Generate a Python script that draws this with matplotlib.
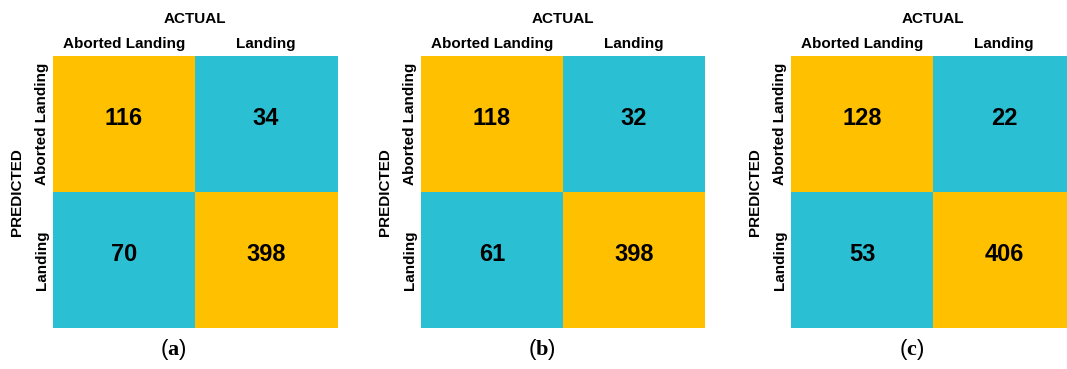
import numpy as np
import matplotlib
matplotlib.use("Agg")
import matplotlib.pyplot as plt
from matplotlib.colors import ListedColormap

plt.rcParams['font.family'] = ['Liberation Sans', 'DejaVu Sans']
plt.rcParams['mathtext.fontset'] = 'custom'
plt.rcParams['mathtext.rm'] = 'Liberation Serif'
plt.rcParams['mathtext.bf'] = 'Liberation Serif:bold'

# 混淆矩阵数据 (行: 预测, 列: 实际)
class_names = ['Aborted Landing', 'Landing']
panel_tags = ['a', 'b', 'c']
cm_a = [[116, 34], [70, 398]]
cm_b = [[118, 32], [61, 398]]
cm_c = [[128, 22], [53, 406]]
matrices = [cm_a, cm_b, cm_c]

# 对角线(预测正确)为黄色, 其余为青色
cell_cmap = ListedColormap(['#2BBFD3', '#FFC000'])

W, H = 1067, 369
fig = plt.figure(figsize=(W / 100, H / 100), dpi=100)

# 每个子图矩阵的左边缘像素位置
lefts = [53, 421, 791]
mat_w, mat_h = 284, 272
top = 56

for left, cm, tag in zip(lefts, matrices, panel_tags):
    cm = np.array(cm)
    ax = fig.add_axes([left / W, 1 - (top + mat_h) / H, mat_w / W, mat_h / H])
    correct = np.eye(len(class_names))
    ax.imshow(correct, cmap=cell_cmap, aspect='auto', vmin=0, vmax=1,
              interpolation='nearest')
    for i in range(cm.shape[0]):
        for j in range(cm.shape[1]):
            ax.text(j, i - 0.04, str(cm[i, j]), ha='center', va='center',
                    fontsize=17, fontweight='bold', color='black')

    ax.set_xticks([])
    ax.set_yticks([])
    for s in ax.spines.values():
        s.set_visible(False)

    cx = (left + mat_w / 2) / W
    fig.text(cx, 1 - 19 / H, 'ACTUAL', ha='center', va='center',
             fontsize=11, fontweight='bold')
    for j, name in enumerate(class_names):
        x = (left + mat_w * (j + 0.5) / 2) / W
        fig.text(x, 1 - 44 / H, name, ha='center', va='center',
                 fontsize=11, fontweight='bold')

    cy = 1 - (top + mat_h / 2) / H
    fig.text((left - 36) / W, cy, 'PREDICTED', ha='center', va='center',
             rotation=90, fontsize=11, fontweight='bold')
    for i, name in enumerate(class_names):
        y = 1 - (top + mat_h * (i + 0.5) / 2) / H
        fig.text((left - 11) / W, y, name, ha='center', va='center',
                 rotation=90, fontsize=11, fontweight='bold')

    # 子图编号
    fig.text((left - 43 + (mat_w + 43) / 2) / W, 1 - 350 / H,
             r'($\mathbf{' + tag + r'}$)', ha='center', va='center',
             fontsize=16)

fig.savefig('out.png', dpi=100)
